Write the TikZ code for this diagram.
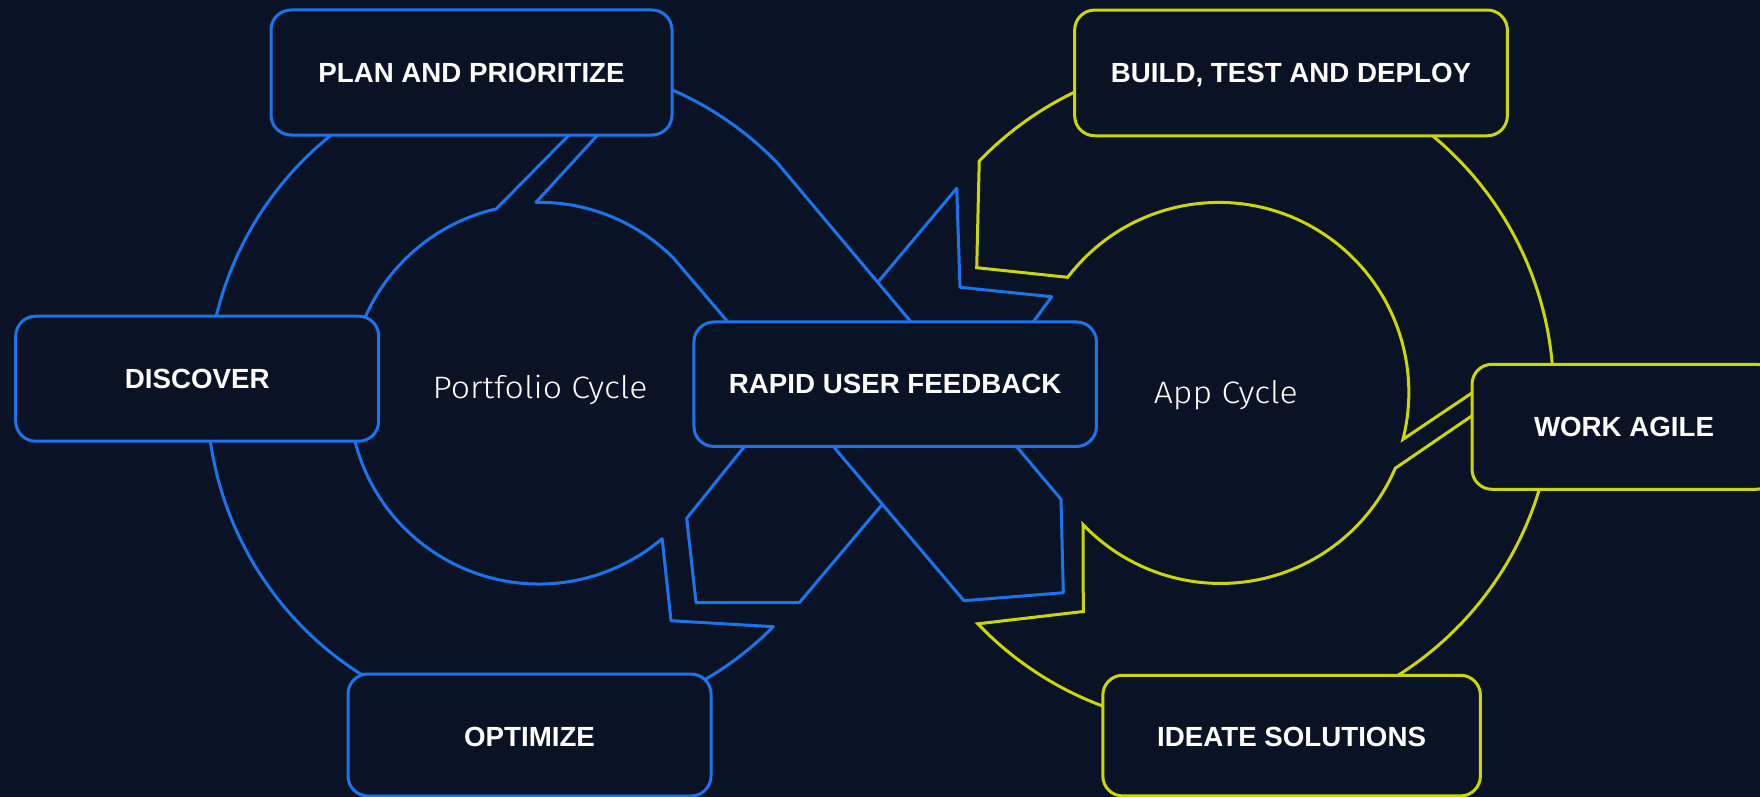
\documentclass[tikz,border=0pt]{standalone}
\usepackage{fontspec}
\setmainfont{Liberation Sans}
\newfontfamily\lightfont{Fira Sans}[UprightFont={* Light}]
\definecolor{bg}{RGB}{10,19,37}
\definecolor{pblue}{RGB}{27,116,236}
\definecolor{ayel}{RGB}{202,216,0}
\tikzset{
  bluel/.style={draw=pblue, line width=3pt, line join=round, line cap=round},
  yell/.style={draw=ayel, line width=3pt, line join=miter},
  bbox/.style={rectangle, rounded corners=20pt, line width=3pt, fill=bg, inner sep=0pt},
  lbl/.style={anchor=base, text=white, font=\fontsize{27.7}{34}\selectfont\bfseries},
  cyc/.style={anchor=base, text=white, font=\lightfont\fontsize{31}{36}\selectfont},
}
\newcommand{\cycwide}[1]{\scalebox{1.09}[1]{#1}}
\begin{document}
\begin{tikzpicture}[x=1pt,y=1pt]
\fill[bg] (0,0) rectangle (1760,-797);
\useasboundingbox (0,0) rectangle (1760,-797);
\clip (0,0) rectangle (1760,-797);
\coordinate (CP) at (539,-394);
\coordinate (CA) at (1219.5,-393);
% ---------- Portfolio cycle (blue) ----------
\draw[bluel] (CP) ++(120:332pt) arc[start angle=120, end angle=172, radius=332pt];
\draw[bluel] (CP) ++(185:332pt) arc[start angle=185, end angle=245, radius=332pt];
\draw[bluel] (CP) ++(165:190pt) arc[start angle=165, end angle=103, radius=190pt] -- (577,-127);
\draw[bluel] (605,-127) -- (536,-202.3) arc[start angle=90.9, end angle=44.9, radius=190pt] -- (733,-328);
\draw[bluel] (CP) ++(70:332pt) arc[start angle=70, end angle=44.1, radius=332pt] -- (917,-329);
\coordinate (xtop) at (878.3,-281.7);
\draw[bluel] (xtop) -- (956.7,-188.3) -- (960,-287.3) -- (1051.7,-296.7) -- (1028,-329);
\draw[bluel] (CP) ++(190:190pt) arc[start angle=190, end angle=310.4, radius=190pt]
  -- (671,-620.7) -- (773.3,-626.7) arc[start angle=-44.8, end angle=-65, radius=332pt];
\coordinate (xbot) at (881.7,-505);
\draw[bluel] (750,-439.6) -- (686.7,-518.3) -- (696,-602.7) -- (799.3,-602.7) -- (xbot);
\draw[bluel] (827,-439) -- (964,-600.7) -- (1063.3,-592.7) -- (1061,-499.3) -- (1011,-440);
% ---------- App cycle (yellow) ----------
\draw[yell] (CA) ++(110:334pt) arc[start angle=110, end angle=136, radius=334pt]
  -- (976.7,-267.7) -- (1067.7,-277.3) arc[start angle=142.7, end angle=-14.3, radius=190pt] -- (1480,-387.5);
\draw[yell] (1480,-410.3) -- (1395.2,-468.3) arc[start angle=-23.2, end angle=-136.4, radius=190pt]
  -- (1083.3,-611.5) -- (977.8,-623.8) arc[start angle=-136.3, end angle=-105, radius=334pt];
\draw[yell] (CA) ++(-62:334pt) arc[start angle=-62, end angle=-12, radius=334pt];
\draw[yell] (CA) ++(0:334pt) arc[start angle=0, end angle=55, radius=334pt];
% ---------- boxes ----------
\node[bbox, draw=pblue, minimum width=401pt, minimum height=125pt] (plan) at (471.5,-72.5) {};
\node[bbox, draw=pblue, minimum width=363pt, minimum height=125pt] (discover) at (197.2,-378.7) {};
\node[bbox, draw=pblue, minimum width=363pt, minimum height=122pt] (optimize) at (529.5,-735) {};
\node[bbox, draw=pblue, minimum width=402.5pt, minimum height=124.5pt] (rapid) at (895.2,-384.2) {};
\node[bbox, draw=ayel, minimum width=432.7pt, minimum height=125.7pt] (build) at (1291,-72.9) {};
\node[bbox, draw=ayel, minimum width=304pt, minimum height=125pt] (work) at (1624,-426.8) {};
\node[bbox, draw=ayel, minimum width=377.6pt, minimum height=120.7pt] (ideate) at (1291.6,-735.6) {};
% ---------- labels ----------
\node[lbl] (tplan) at ([yshift=-10pt]plan.center) {PLAN AND PRIORITIZE};
\node[lbl] (tdisc) at ([yshift=-10pt]discover.center) {DISCOVER};
\node[lbl] (topt) at ([yshift=-11pt]optimize.center) {OPTIMIZE};
\node[lbl] (trapid) at ([yshift=-9pt]rapid.center) {RAPID USER FEEDBACK};
\node[lbl] (tbuild) at ([yshift=-10pt]build.center) {BUILD, TEST AND DEPLOY};
\node[lbl] (twork) at ([yshift=-10pt]work.center) {WORK AGILE};
\node[lbl] (tideate) at ([yshift=-11pt]ideate.center) {IDEATE SOLUTIONS};
\node[cyc] (pcyc) at (540,-398.3) {\cycwide{Portfolio Cycle}};
\node[cyc] (acyc) at (1225.7,-403.3) {\cycwide{App Cycle}};
\end{tikzpicture}
\end{document}
